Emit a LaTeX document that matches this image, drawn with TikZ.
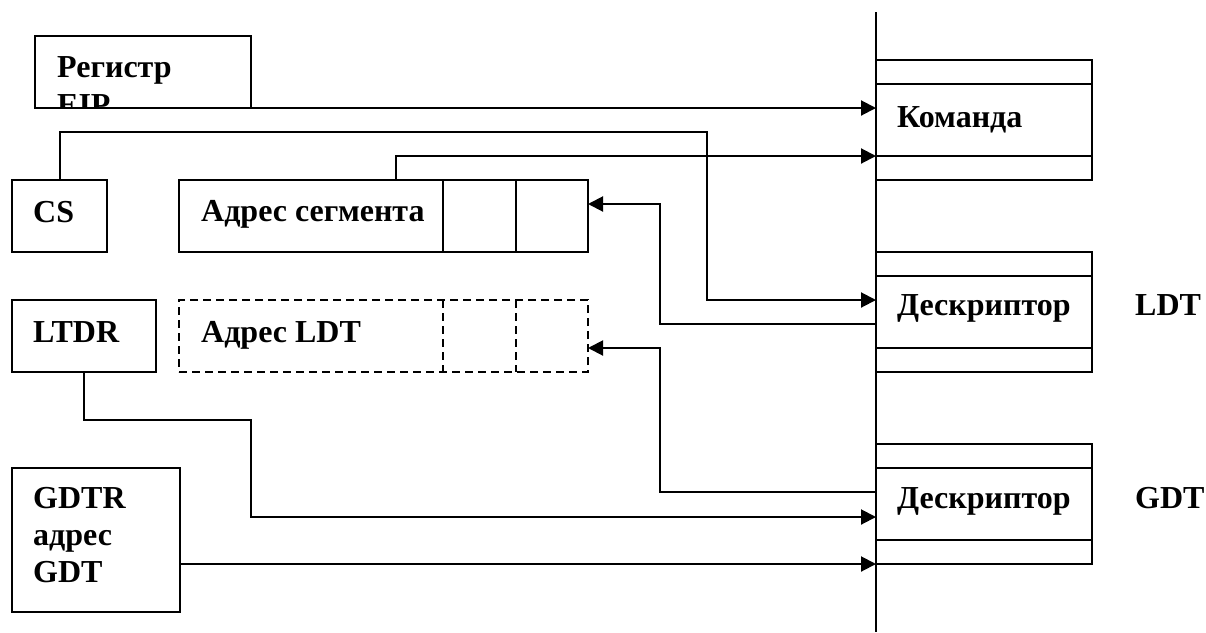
\documentclass[tikz,border=0pt]{standalone}
\usepackage{fontspec}
\setmainfont{Liberation Serif}
\usetikzlibrary{arrows.meta}
\begin{document}
\begin{tikzpicture}[x=1pt,y=-1pt,
  box/.style={draw, line width=1.5pt, rectangle, inner sep=0pt, outer sep=0pt, anchor=north west},
  dbox/.style={box, dash pattern=on 8pt off 5pt},
  lbl/.style={anchor=base west, inner sep=0pt, font=\fontsize{32}{38}\selectfont\bfseries},
  conn/.style={line width=2pt},
  arr/.style={conn, -{Triangle[length=15pt,width=15pt]}}
]
\useasboundingbox (0,0) rectangle (1206,632);
% memory column (vertical line)
\coordinate (vtop) at (876,12);
\coordinate (vbot) at (876,632);
\draw[conn] (vtop) -- (vbot);

% left boxes
\node[box, minimum width=216pt, minimum height=72pt] (eip) at (35,36) {};
\node[box, minimum width=95pt, minimum height=72pt] (cs) at (12,180) {};
\node[box, minimum width=409pt, minimum height=72pt] (seg) at (179,180) {};
\draw[line width=1.5pt] (443,180) -- (443,252) (516,180) -- (516,252);
\node[box, minimum width=144pt, minimum height=72pt] (ltdr) at (12,300) {};
\node[dbox, minimum width=409pt, minimum height=72pt] (ldtaddr) at (179,300) {};
\draw[line width=1.5pt, dash pattern=on 8pt off 5pt] (443,300) -- (443,372) (516,300) -- (516,372);
\node[box, minimum width=168pt, minimum height=144pt] (gdtr) at (12,468) {};

% right tables
\node[box, minimum width=216pt, minimum height=120pt] (cmd) at (876,60) {};
\draw[line width=1.5pt] (876,84) -- (1092,84) (876,156) -- (1092,156);
\node[box, minimum width=216pt, minimum height=120pt] (ldt) at (876,252) {};
\draw[line width=1.5pt] (876,276) -- (1092,276) (876,348) -- (1092,348);
\node[box, minimum width=216pt, minimum height=120pt] (gdt) at (876,444) {};
\draw[line width=1.5pt] (876,468) -- (1092,468) (876,540) -- (1092,540);

% texts
\node[lbl] (treg) at (57,77) {Регистр};
\begin{scope}
  \clip (35,36) rectangle (251,108);
  \node[lbl] (teip) at (57,115) {EIP};
\end{scope}
\node[lbl] (tcs) at (33,222) {CS};
\node[lbl] (tseg) at (201,221) {Адрес сегмента};
\node[lbl] (tltdr) at (33,342) {LTDR};
\node[lbl] (tldta) at (201,342) {Адрес LDT};
\node[lbl] (tg1) at (33,508) {GDTR};
\node[lbl] (tg2) at (33,545) {адрес};
\node[lbl] (tg3) at (33,582) {GDT};
\node[lbl] (tcmd) at (897,127) {Команда};
\node[lbl] (tdl) at (897,315) {Дескриптор};
\node[lbl] (tdg) at (897,508) {Дескриптор};
\node[lbl] (tldt) at (1135,315) {LDT};
\node[lbl] (tgdt) at (1135,508) {GDT};

% connector end points on the memory column
\coordinate (inCmd) at (876,108);
\coordinate (inCmd2) at (876,156);
\coordinate (inLdt) at (876,300);
\coordinate (outLdt) at (876,324);
\coordinate (outGdt) at (876,492);
\coordinate (inGdt1) at (876,517);
\coordinate (inGdt2) at (876,564);

% connectors
\draw[arr] (eip.south east) -- (inCmd);
\draw[arr] (cs.north) |- (707,132) |- (inLdt);
\draw[arr] (396,180) |- (inCmd2);
\draw[arr] (outLdt) -| (660,204) -- (seg.east |- 0,204);
\draw[arr] (outGdt) -| (660,348) -- (ldtaddr.east |- 0,348);
\draw[arr] (ltdr.south) |- (251,420) |- (inGdt1);
\draw[arr] (gdtr.east |- 0,564) -- (inGdt2);
\end{tikzpicture}
\end{document}
